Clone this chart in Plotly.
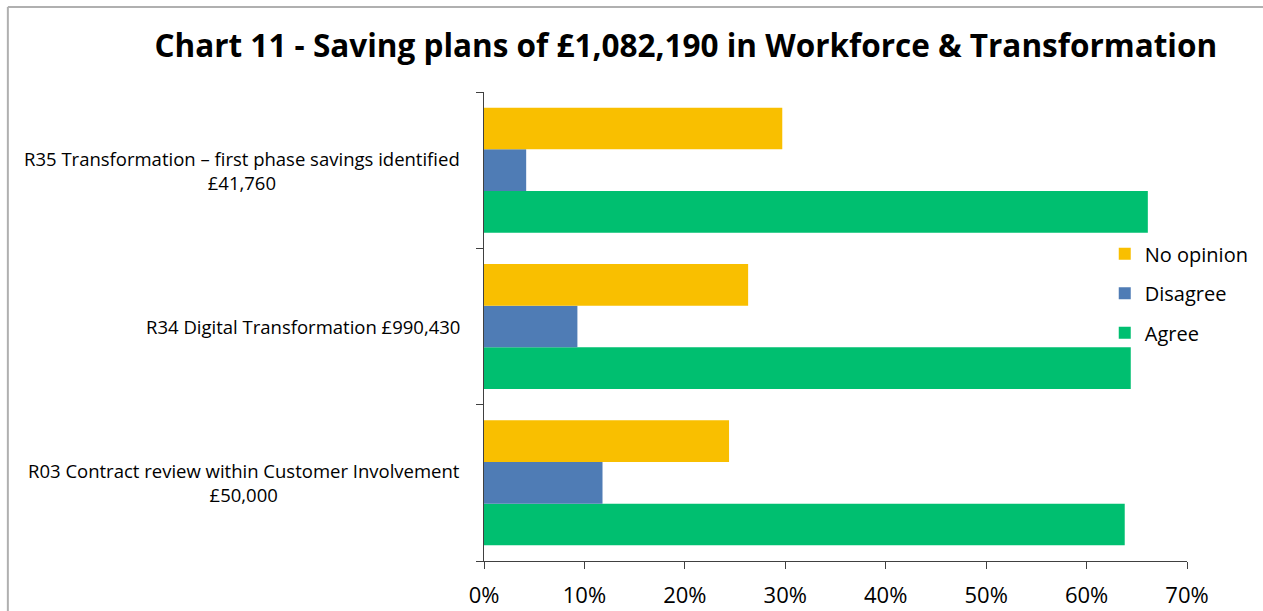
import plotly.graph_objects as go

# Savings proposals (bottom to top on the chart)
categories = ["R03", "R34", "R35"]
category_labels = [
    "R03 Contract review within Customer Involvement<br>£50,000",
    "R34 Digital Transformation £990,430",
    "R35 Transformation – first phase savings identified<br>£41,760",
]

# Share of responses per proposal (percent)
agree = [63.8, 64.4, 66.1]
disagree = [11.8, 9.3, 4.2]
no_opinion = [24.4, 26.3, 29.7]

x_ticks = [0, 10, 20, 30, 40, 50, 60, 70]
x_tick_text = [f"{v}%" for v in x_ticks]

font_family = "Open Sans, Lato, Liberation Sans, sans-serif"

fig = go.Figure()
# (name, values, colour, legend position)
series = [
    ("Agree", agree, "#00BF70", 3),
    ("Disagree", disagree, "#4F7CB5", 2),
    ("No opinion", no_opinion, "#F9BF00", 1),
]
for name, values, color, rank in series:
    fig.add_trace(go.Bar(
        y=categories, x=values, name=name, orientation="h",
        marker=dict(color=color, line=dict(width=0)),
        legendgroup=name, legendrank=rank,
    ))

# Category labels, centred text blocks to the left of the axis
annotations = []
for cat, label in zip(categories, category_labels):
    annotations.append(dict(
        x=-0.032, y=cat, xref="paper", yref="y",
        text=label, showarrow=False, xanchor="right", yanchor="middle",
        align="center", font=dict(family=font_family, size=18.5, color="#000000"),
    ))

fig.update_layout(
    width=1263, height=611,
    margin=dict(l=483.5, r=76, t=92, b=50, pad=0, autoexpand=False),
    paper_bgcolor="white", plot_bgcolor="white",
    barmode="group", bargap=0.2, bargroupgap=0,
    title=dict(
        text="<b>Chart 11 - Saving plans of £1,082,190 in Workforce &amp; Transformation</b>",
        x=0.543, xanchor="center", y=0.925, yanchor="middle",
        font=dict(family=font_family, size=31.5, color="#000000"),
    ),
    xaxis=dict(
        range=[0, 70], tickvals=x_ticks, ticktext=x_tick_text,
        showgrid=False, zeroline=False, automargin=False,
        showline=True, linecolor="#404040", linewidth=1,
        ticks="outside", ticklen=7, tickcolor="#404040",
        ticklabelstandoff=8,
        tickfont=dict(family=font_family, size=22, color="#000000"),
        fixedrange=True,
    ),
    yaxis=dict(
        categoryorder="array", categoryarray=categories,
        showticklabels=False, tickson="boundaries", automargin=False,
        showgrid=False, zeroline=False,
        showline=True, linecolor="#404040", linewidth=1,
        ticks="outside", ticklen=7, tickcolor="#404040",
        fixedrange=True,
    ),
    legend=dict(
        x=0.883, y=0.6965, xanchor="left", yanchor="top",
        traceorder="grouped", tracegroupgap=10.5,
        font=dict(family=font_family, size=20, color="#000000"),
        bgcolor="rgba(0,0,0,0)",
    ),
    annotations=annotations,
    shapes=[
        # chart frame (left and top edges)
        dict(type="line", xref="paper", yref="paper", x0=-0.6773, x1=-0.6773,
             y0=1.1812, y1=-0.2, line=dict(color="#B0B0B0", width=2)),
        dict(type="line", xref="paper", yref="paper", x0=-0.6773, x1=1.2,
             y0=1.1812, y1=1.1812, line=dict(color="#B0B0B0", width=2)),
    ],
    showlegend=True,
)

fig.write_html("out.html", config={"displayModeBar": False})
